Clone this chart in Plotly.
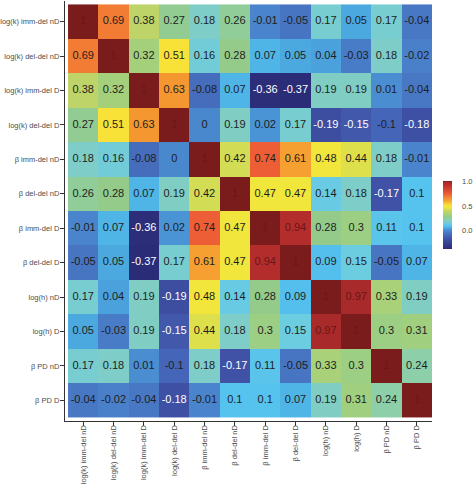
import plotly.graph_objects as go

labels = ["log(k) imm-del nD", "log(k) del-del nD", "log(k) imm-del D", "log(k) del-del D",
          "β imm-del nD", "β del-del nD", "β imm-del D", "β del-del D",
          "log(h) nD", "log(h) D", "β PD nD", "β PD D"]

r0 = [1, 0.69, 0.38, 0.27, 0.18, 0.26, -0.01, -0.05, 0.17, 0.05, 0.17, -0.04]
r1 = [0.69, 1, 0.32, 0.51, 0.16, 0.28, 0.07, 0.05, 0.04, -0.03, 0.18, -0.02]
r2 = [0.38, 0.32, 1, 0.63, -0.08, 0.07, -0.36, -0.37, 0.19, 0.19, 0.01, -0.04]
r3 = [0.27, 0.51, 0.63, 1, 0, 0.19, 0.02, 0.17, -0.19, -0.15, -0.1, -0.18]
r4 = [0.18, 0.16, -0.08, 0, 1, 0.42, 0.74, 0.61, 0.48, 0.44, 0.18, -0.01]
r5 = [0.26, 0.28, 0.07, 0.19, 0.42, 1, 0.47, 0.47, 0.14, 0.18, -0.17, 0.1]
r6 = [-0.01, 0.07, -0.36, 0.02, 0.74, 0.47, 1, 0.94, 0.28, 0.3, 0.11, 0.1]
r7 = [-0.05, 0.05, -0.37, 0.17, 0.61, 0.47, 0.94, 1, 0.09, 0.15, -0.05, 0.07]
r8 = [0.17, 0.04, 0.19, -0.19, 0.48, 0.14, 0.28, 0.09, 1, 0.97, 0.33, 0.19]
r9 = [0.05, -0.03, 0.19, -0.15, 0.44, 0.18, 0.3, 0.15, 0.97, 1, 0.3, 0.31]
r10 = [0.17, 0.18, 0.01, -0.1, 0.18, -0.17, 0.11, -0.05, 0.33, 0.3, 1, 0.24]
r11 = [-0.04, -0.02, -0.04, -0.18, -0.01, 0.1, 0.1, 0.07, 0.19, 0.31, 0.24, 1]
matrix = [r0, r1, r2, r3, r4, r5, r6, r7, r8, r9, r10, r11]

zmin, zmax = -0.37, 1.0
stops = [(-0.37, "#2b2c78"), (-0.17, "#3f52a6"), (-0.10, "#4566b8"), (-0.04, "#4878c4"),
         (0.00, "#4a88ce"), (0.03, "#4a9ad8"), (0.06, "#4cb0e4"), (0.10, "#56c2ee"),
         (0.15, "#6ccce0"), (0.18, "#7ecdc8"), (0.24, "#8ccfa8"), (0.28, "#94cb8a"),
         (0.32, "#a4d07c"), (0.38, "#bed468"), (0.43, "#d8de50"), (0.47, "#f0e63c"),
         (0.51, "#f8e238"), (0.61, "#f5a030"), (0.69, "#f27c34"), (0.74, "#ed5e36"),
         (0.90, "#c43030"), (0.97, "#a82a2a"), (1.00, "#7a1c1c")]
colorscale = [[(v - zmin) / (zmax - zmin), c] for v, c in stops]

n = len(labels)
idx = list(range(n))

fig = go.Figure()
fig.add_trace(go.Heatmap(
    z=matrix, x=idx, y=idx, zmin=zmin, zmax=zmax, colorscale=colorscale,
    xgap=0, ygap=0, hoverinfo="skip",
    colorbar=dict(thickness=9, len=68, lenmode="pixels", x=1.03, xanchor="left", xpad=0,
                  y=0.49, yanchor="middle", ypad=0, outlinewidth=0,
                  tickvals=[0.0, 0.5, 1.0], ticktext=["0.0", "0.5", "1.0"],
                  ticks="outside", ticklen=9, tickcolor="rgba(0,0,0,0)",
                  tickfont=dict(size=7.5, color="#4d4d4d", family="Liberation Sans, Arial"))
))

tx, ty, tt, tc = [], [], [], []
for i, row in enumerate(matrix):
    for j, v in enumerate(row):
        tx.append(j)
        ty.append(i)
        tt.append(f"{v:g}")
        if v >= 0.9:
            tc.append("#6a1616")
        elif v <= -0.15:
            tc.append("#ffffff")
        else:
            tc.append("#1e1e1e")

fig.add_trace(go.Scatter(x=tx, y=ty, mode="text", text=tt,
                         textfont=dict(size=11, color=tc, family="Liberation Sans, Arial"),
                         hoverinfo="skip", showlegend=False))

axis_common = dict(showgrid=False, zeroline=False, showline=True, linecolor="#333333",
                   linewidth=1.2, ticks="outside", ticklen=4, tickcolor="#333333",
                   tickwidth=1.2, automargin=False,
                   tickfont=dict(size=7.5, color="#4d4d4d", family="Liberation Sans, Arial"))

fig.update_layout(
    width=474, height=486,
    margin=dict(l=65, r=42, t=1, b=65, autoexpand=False),
    plot_bgcolor="white", paper_bgcolor="white",
    showlegend=False,
    xaxis=dict(range=[-0.6, 11.5], tickvals=idx, ticktext=labels, tickangle=-90,
               ticklabelstandoff=-4, **axis_common),
    yaxis=dict(range=[11.6, -0.6], tickvals=idx, ticktext=labels,
               ticklabelstandoff=-1, **axis_common),
)

fig.write_html("out.html", config={"displayModeBar": False},
               post_script="document.body.style.margin='0';")
